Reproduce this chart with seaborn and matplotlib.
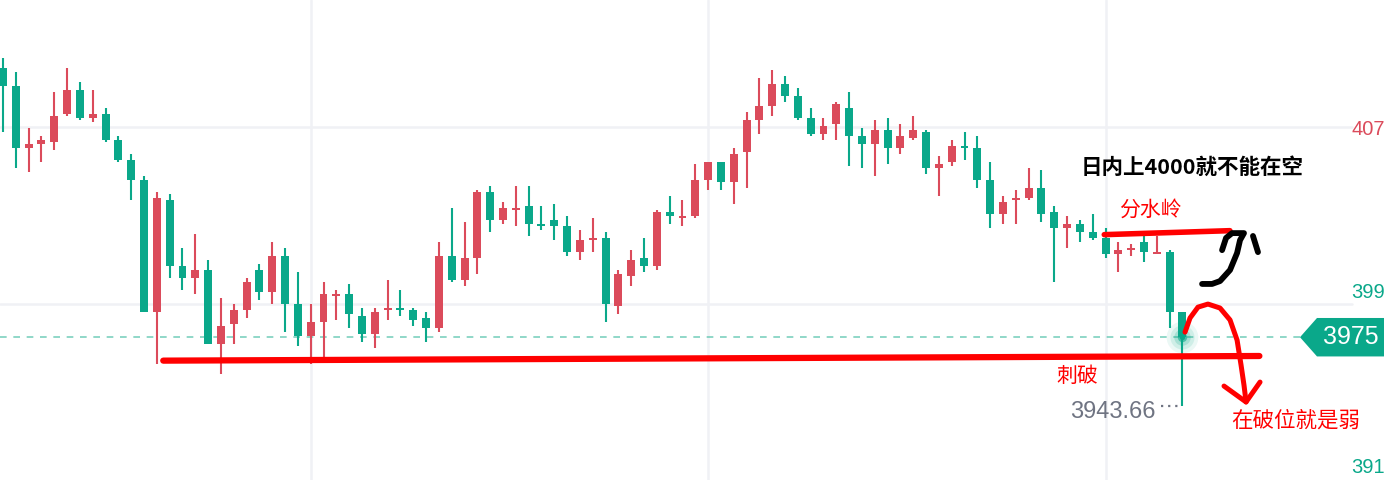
import numpy as np
import pandas as pd
import matplotlib
matplotlib.use('Agg')
import matplotlib.pyplot as plt
from matplotlib import transforms
from matplotlib.patches import Polygon
import seaborn as sns

# K线数据（从图上读出的开高低收）
opens = [4096.8, 4088.6, 4060.7, 4062.5, 4063.4, 4076.1, 4086.8, 4074.3, 4076.0, 4064.2,
         4055.2, 4046.1, 3986.5, 4037.1, 4007.2, 4001.9, 4005.4, 3972.0, 3981.1, 3987.4,
         4005.4, 3995.6, 4011.7, 3990.0, 3975.7, 3982.0, 3993.8, 3994.5, 3984.6, 3976.6,
         3987.4, 3988.2, 3987.3, 3983.7, 3979.3, 4011.7, 4001.0, 4011.0, 4040.7, 4028.1,
         4032.7, 4034.3, 4026.2, 4028.0, 4025.3, 4013.7, 4019.1, 4019.9, 3989.2, 4002.8,
         4010.8, 4007.3, 4031.6, 4029.1, 4030.0, 4046.2, 4054.3, 4045.3, 4058.9, 4073.4,
         4079.7, 4089.6, 4084.1, 4074.2, 4067.1, 4071.6, 4078.7, 4066.0, 4062.5, 4068.7,
         4060.7, 4065.3, 4067.8, 4051.7, 4054.4, 4061.5, 4060.6, 4046.1, 4030.9, 4037.2,
         4038.1, 4042.5, 4031.6, 4024.5, 4026.2, 4022.6, 4019.9, 4012.8, 4014.6, 4018.1,
         4012.8, 4013.5, 3986.4]
highs = [4101.3, 4095.0, 4069.6, 4066.0, 4085.9, 4096.8, 4090.5, 4086.8, 4078.7, 4066.0,
         4057.9, 4047.9, 4040.7, 4039.8, 4015.3, 4021.7, 4009.9, 3992.7, 3990.0, 4001.8,
         4008.1, 4018.1, 4015.3, 4004.5, 3990.0, 3999.9, 3996.3, 3999.0, 3988.2, 3988.2,
         4000.9, 3996.3, 3988.2, 3986.4, 4018.1, 4033.4, 4027.1, 4041.6, 4043.4, 4036.2,
         4043.4, 4043.4, 4034.3, 4035.2, 4029.8, 4023.5, 4028.9, 4022.6, 4005.4, 4014.4,
         4019.9, 4032.5, 4038.9, 4037.1, 4053.4, 4054.3, 4054.3, 4060.6, 4076.9, 4092.3,
         4095.9, 4093.2, 4087.7, 4078.7, 4074.2, 4081.4, 4085.9, 4069.6, 4073.3, 4074.2,
         4071.5, 4075.1, 4068.7, 4057.0, 4064.2, 4067.8, 4066.0, 4054.3, 4038.9, 4041.6,
         4051.5, 4050.6, 4034.3, 4029.8, 4028.0, 4030.7, 4024.4, 4018.1, 4017.1, 4020.8,
         4020.8, 4014.4, 3986.4]
lows = [4068.0, 4051.7, 4049.9, 4054.4, 4059.8, 4075.2, 4073.4, 4072.5, 4063.4, 4054.4,
        4037.2, 3986.5, 3963.0, 4001.9, 3996.5, 3994.7, 3972.0, 3958.5, 3972.0, 3983.8,
        3992.0, 3990.1, 3977.5, 3971.1, 3963.0, 3966.0, 3982.9, 3979.3, 3972.9, 3970.2,
        3982.9, 3984.7, 3980.2, 3972.9, 3977.5, 4000.1, 3998.3, 4003.7, 4022.7, 4026.3,
        4025.4, 4020.9, 4023.6, 4019.1, 4011.9, 4010.0, 4013.7, 3982.0, 3985.6, 3998.3,
        4004.6, 4005.5, 4026.3, 4025.4, 4029.1, 4041.7, 4041.7, 4035.4, 4042.6, 4067.1,
        4075.2, 4081.5, 4073.4, 4066.2, 4064.3, 4064.3, 4052.6, 4051.7, 4048.1, 4053.5,
        4058.0, 4064.3, 4049.0, 4039.0, 4052.6, 4055.3, 4042.6, 4024.5, 4026.3, 4026.3,
        4037.2, 4027.2, 4000.1, 4015.5, 4018.2, 4019.1, 4011.0, 4004.6, 4011.9, 4009.1,
        4012.8, 3979.3, 3943.66]
closes = [4088.6, 4060.7, 4062.4, 4064.2, 4075.1, 4086.8, 4074.3, 4076.0, 4064.3, 4055.3,
          4046.2, 3986.5, 4038.0, 4007.3, 4001.9, 4005.4, 3972.0, 3980.0, 3987.3, 3999.9,
          3995.6, 4011.7, 3990.1, 3975.7, 3981.9, 3994.5, 3994.5, 3985.6, 3976.6, 3986.4,
          3988.2, 3987.4, 3982.9, 3979.3, 4011.7, 4001.0, 4010.8, 4040.7, 4028.1, 4033.4,
          4033.4, 4026.3, 4025.4, 4025.4, 4013.7, 4019.0, 4019.9, 3990.1, 4003.6, 4009.9,
          4007.3, 4031.6, 4030.0, 4029.8, 4046.1, 4054.3, 4045.3, 4057.9, 4073.3, 4079.6,
          4089.6, 4084.3, 4074.3, 4067.1, 4070.5, 4080.5, 4066.2, 4062.5, 4068.7, 4060.7,
          4066.0, 4068.7, 4051.7, 4053.4, 4061.5, 4060.7, 4046.2, 4030.9, 4036.2, 4038.0,
          4042.5, 4030.9, 4024.5, 4026.2, 4022.7, 4020.0, 4012.8, 4014.4, 4015.3, 4013.7,
          4013.5, 3986.5, 3975.0]

last_price = 3975.0
low_price = 3943.66
axis_levels = [4070, 3990, 3910]
# 右侧价格轴在截图边缘只露出前三位
axis_labels = ['407', '399', '391']

# 手绘标注（K线序号, 价格）
support_x = [12.5, 98.0]
support_y = [3964.4, 3966.5]
divide_x = [85.9, 95.7]
divide_y = [4021.4, 4023.2]
squiggle_x = [95.09, 95.40, 95.87, 96.80, 96.49, 96.26, 95.71, 94.93, 94.31, 93.53]
squiggle_y = [4014.4, 4019.9, 4022.1, 4022.1, 4018.9, 4013.1, 4005.4, 4000.4, 3999.1, 3999.1]
tick_x = [97.5, 97.89]
tick_y = [4020.8, 4013.5]
arrow_x = [92.20, 92.59, 93.21, 93.99, 94.93, 95.71, 96.26, 96.57, 96.80, 96.96]
arrow_y = [3977.3, 3983.7, 3988.6, 3990.0, 3988.2, 3982.8, 3973.7, 3962.4, 3953.3, 3945.7]
head_x = [95.24, 96.96, 98.05]
head_y = [3952.9, 3945.7, 3954.7]

RED = '#db4b5b'
TEAL = '#0aa88a'
GRID = '#f0f1f5'

df = pd.DataFrame({'open': opens, 'high': highs, 'low': lows, 'close': closes})
df['x'] = np.arange(len(df))
df['color'] = np.where(df.close >= df.open, RED, TEAL)

sns.set_style('white')
plt.rcParams['font.family'] = ['Noto Sans CJK SC', 'DejaVu Sans']

fig = plt.figure(figsize=(13.84, 4.8), dpi=100)
ax = fig.add_axes([0, 0, 1, 1])
ax.set_xlim(-0.234, 107.72)
ax.set_ylim(3910.4, 4127.56)
ax.axis('off')
blend = transforms.blended_transform_factory(ax.transAxes, ax.transData)

# 网格
for gx in [24, 55, 86]:
    ax.axvline(gx, color=GRID, lw=1.8, zorder=0)
for gy in axis_levels[:2]:
    ax.axhline(gy, xmax=1352 / 1384, color=GRID, lw=1.8, zorder=0)

# 最新价虚线
ax.axhline(last_price, xmax=1300 / 1384, color='#5cc5ae', lw=1.2,
           ls=(0, (4, 4)), alpha=0.8, zorder=1)

# 影线 + 实体
ax.vlines(df.x, df.low, df.high, colors=df.color, lw=1.5, zorder=2)
body = (df.close - df.open).abs().clip(lower=0.7)
ax.bar(df.x, body, bottom=df[['open', 'close']].min(axis=1), width=0.62,
       color=df.color, linewidth=0, zorder=3)

# 最新价光点
for s, a in [(520, 0.08), (300, 0.12), (140, 0.2), (45, 0.6), (14, 1)]:
    ax.scatter([df.x.iloc[-1]], [last_price], s=s, color=TEAL, alpha=a,
               linewidths=0, zorder=4)

# 最低价标签
ax.text(89.9, low_price - 2.4, f'{low_price:.2f}', ha='right', va='center',
        fontsize=17, color='#6f7482', family='Liberation Sans')
ax.plot([90.35, 91.9], [low_price, low_price], ls=(0, (1, 2.2)), lw=1.6,
        color='#6f7482')

# 右侧价格轴
label_y = [4069.0, 3995.4, 3916.0]
label_c = [RED, TEAL, TEAL]
for yv, t, c in zip(label_y, axis_labels, label_c):
    ax.text(1351 / 1384, yv, t, transform=blend, ha='left', va='center',
            fontsize=14.5, color=c, family='Liberation Sans')

# 最新价标签
tag = Polygon([(1300 / 1384, last_price), (1317 / 1384, last_price + 8.7),
               (1.01, last_price + 8.7), (1.01, last_price - 8.7),
               (1317 / 1384, last_price - 8.7)],
              closed=True, transform=blend, color=TEAL, lw=0, zorder=6)
ax.add_patch(tag)
ax.text(1323 / 1384, last_price, f'{last_price:.0f}', transform=blend,
        ha='left', va='center', fontsize=18, color='white',
        family='Liberation Sans', zorder=7)

# 手绘线条
ax.plot(support_x, support_y, color='#ff0000', lw=4.5, solid_capstyle='round', zorder=5)
ax.plot(divide_x, divide_y, color='#ff0000', lw=4, solid_capstyle='round', zorder=5)
ax.plot(squiggle_x, squiggle_y, color='black', lw=4.2, solid_capstyle='round',
        solid_joinstyle='round', zorder=5)
ax.plot(tick_x, tick_y, color='black', lw=4.2, solid_capstyle='round', zorder=5)
ax.plot(arrow_x, arrow_y, color='#ff0000', lw=3.6, solid_capstyle='round',
        solid_joinstyle='round', zorder=5)
ax.plot(head_x, head_y, color='#ff0000', lw=3.6, solid_capstyle='round',
        solid_joinstyle='round', zorder=5)

# 文字标注
ax.text(92.75, 4052.0, '日内上4000就不能在空', ha='center', va='center',
        fontsize=15.5, color='black', fontweight='bold', zorder=6)
ax.text(89.5, 4032.5, '分水岭', ha='center', va='center', fontsize=15,
        color='#ff0000', zorder=6)
ax.text(83.8, 3957.4, '刺破', ha='center', va='center', fontsize=15,
        color='#ff0000', zorder=6)
ax.text(100.8, 3937.1, '在破位就是弱', ha='center', va='center', fontsize=15.5,
        color='#ff0000', zorder=6)

fig.savefig('out.png', dpi=100)
